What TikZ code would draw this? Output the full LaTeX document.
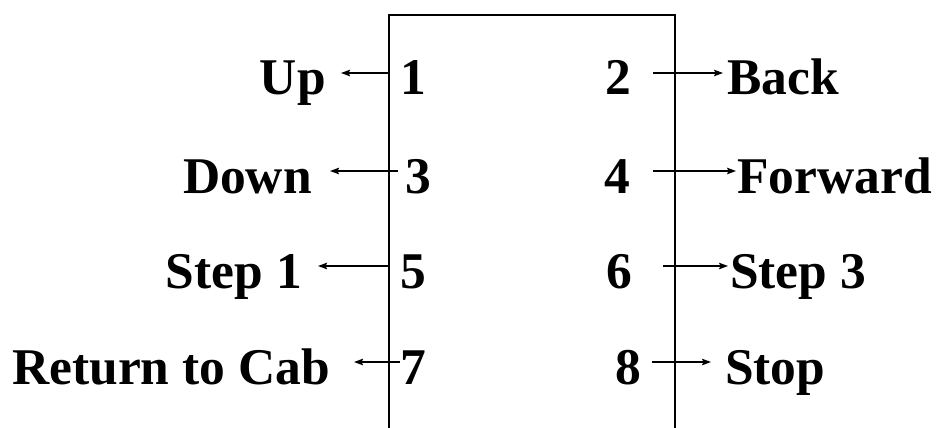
\documentclass[tikz,border=0pt]{standalone}
\usepackage{fontspec}
\setmainfont{Liberation Serif}
\usetikzlibrary{arrows.meta}
\begin{document}
\begin{tikzpicture}[x=1pt,y=-1pt,
  lbl/.style={inner sep=0pt,font=\fontsize{51.5}{60}\selectfont\bfseries},
  lw/.style={lbl,anchor=base west},
  le/.style={lbl,anchor=base east},
  arr/.style={line width=1.6pt,-{Stealth[length=9pt,width=6.5pt,inset=1.5pt]}},
  boxline/.style={line width=2pt}]
\useasboundingbox (0,0) rectangle (940,428);
% box (open at the bottom)
\coordinate (bl) at (388.5,428);
\coordinate (tl) at (388.5,15);
\coordinate (tr) at (674.5,15);
\coordinate (br) at (674.5,428);
\draw[boxline] (bl) -- (tl) -- (tr) -- (br);
% left labels
\node[le] (up) at (326,95) {Up};
\node[le] (down) at (312,193) {Down};
\node[le] (step1) at (302,288) {Step 1};
\node[le] (ret) at (330,384) {Return to Cab};
% numbers
\node[lw] (n1) at (400,95) {1};
\node[lw] (n3) at (405,193) {3};
\node[lw] (n5) at (400,288) {5};
\node[lw] (n7) at (400,384) {7};
\node[lw] (n2) at (605,95) {2};
\node[lw] (n4) at (604,193) {4};
\node[lw] (n6) at (606,288) {6};
\node[lw] (n8) at (615,384) {8};
% right labels
\node[lw] (back) at (727,95) {Back};
\node[lw] (fwd) at (737,193) {Forward};
\node[lw] (step3) at (730,288) {Step 3};
\node[lw] (stop) at (725,384) {Stop};
% arrow end points
\coordinate (s1) at (388.5,73);
\coordinate (t1) at (341,73);
\coordinate (s3) at (398,171);
\coordinate (t3) at (330,171);
\coordinate (s5) at (388.5,266);
\coordinate (t5) at (318,266);
\coordinate (s7) at (400,362);
\coordinate (t7) at (354,362);
\coordinate (s2) at (653,73);
\coordinate (t2) at (723,73);
\coordinate (s4) at (653,171);
\coordinate (t4) at (736,171);
\coordinate (s6) at (663,266);
\coordinate (t6) at (728,266);
\coordinate (s8) at (652,362);
\coordinate (t8) at (711,362);
\draw[arr] (s1) -- (t1);
\draw[arr] (s3) -- (t3);
\draw[arr] (s5) -- (t5);
\draw[arr] (s7) -- (t7);
\draw[arr] (s2) -- (t2);
\draw[arr] (s4) -- (t4);
\draw[arr] (s6) -- (t6);
\draw[arr] (s8) -- (t8);
\end{tikzpicture}
\end{document}
